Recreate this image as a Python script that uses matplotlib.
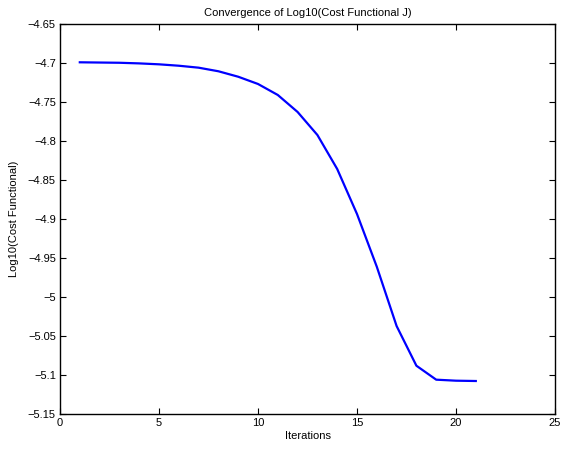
import matplotlib
matplotlib.use("Agg")
import matplotlib.pyplot as plt
from matplotlib.ticker import FormatStrFormatter, FuncFormatter

iterations = list(range(1, 22))
log_cost = [-4.6991, -4.6994, -4.6997, -4.7005, -4.7017, -4.7035, -4.7060,
            -4.7106, -4.7176, -4.7269, -4.7410, -4.7628, -4.7923, -4.8359,
            -4.8936, -4.9612, -5.0372, -5.0881, -5.1060, -5.1073, -5.1077]
xticks = [0, 5, 10, 15, 20, 25]
yticks = [-4.65, -4.7, -4.75, -4.8, -4.85, -4.9, -4.95, -5.0, -5.05, -5.1, -5.15]

plt.rcParams['font.family'] = ['Liberation Sans', 'DejaVu Sans']
plt.rcParams['font.size'] = 8

fig = plt.figure(figsize=(5.63, 4.49), dpi=100)
ax = fig.add_axes([60/563, 35/449, 495/563, 390/449])
ax.plot(iterations, log_cost, color=(0, 0, 1), linewidth=1.6)
ax.set_xlim(0, 25)
ax.set_ylim(-5.15, -4.65)
ax.set_xticks(xticks)
ax.set_yticks(yticks)
ax.yaxis.set_major_formatter(FuncFormatter(lambda v, p: ('%g' % round(v, 4)).replace('-', '\u2212')))
ax.tick_params(direction='in', top=True, right=True, length=4, width=0.8, labelsize=8, pad=3)
for s in ax.spines.values():
    s.set_linewidth(1.0)
ax.set_title('Convergence of Log10(Cost Functional J)', fontsize=8, pad=6)
ax.set_xlabel('Iterations', fontsize=8, labelpad=2)
ax.set_ylabel('Log10(Cost Functional)', fontsize=8, labelpad=6)
fig.savefig('out.png', dpi=100)
